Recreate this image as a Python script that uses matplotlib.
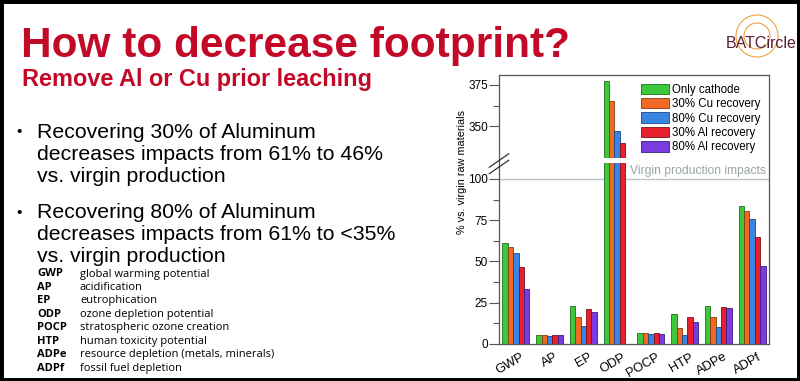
import numpy as np
import matplotlib
matplotlib.use("Agg")
import matplotlib.pyplot as plt
import matplotlib.transforms as mtransforms
from matplotlib.patches import Rectangle, Ellipse

# ---- data ----
categories = ["GWP", "AP", "EP", "ODP", "POCP", "HTP", "ADPe", "ADPf"]
only_cathode = [61.0, 5.5, 23.0, 377.5, 6.6, 18.0, 23.0, 83.5]
cu_30 = [58.5, 5.3, 16.5, 365.5, 6.6, 9.6, 16.5, 80.5]
cu_80 = [55.0, 5.0, 11.0, 347.0, 6.2, 5.3, 10.3, 75.5]
al_30 = [46.5, 5.3, 21.5, 340.0, 6.6, 16.2, 22.3, 65.0]
al_80 = [33.5, 5.3, 19.5, np.nan, 6.1, 13.5, 21.7, 47.5]

series_names = ["Only cathode", "30% Cu recovery", "80% Cu recovery",
                "30% Al recovery", "80% Al recovery"]
colors = ["#3cc83a", "#f06a26", "#3a84e4", "#e8202e", "#7a3ce0"]
edges = ["#1f6e1c", "#8a3a10", "#1d4a85", "#7e1018", "#3e1c80"]

abbrevs = ["GWP", "AP", "EP", "ODP", "POCP", "HTP", "ADPe", "ADPf"]
abbrev_desc = ["global warming potential", "acidification", "eutrophication",
               "ozone depletion potential", "stratospheric ozone creation",
               "human toxicity potential", "resource depletion (metals, minerals)",
               "fossil fuel depletion"]

bullets = [
    ["Recovering 30% of Aluminum", "decreases impacts from 61% to 46%",
     "vs. virgin production"],
    ["Recovering 80% of Aluminum", "decreases impacts from 61% to <35%",
     "vs. virgin production"],
]

W, H = 800, 381
RED = "#c20a28"


def px(x, y):
    return x / W, 1 - y / H


# broken y axis: values between LO and HI are squeezed out
LO, HI = 112.0, 330.0


def fwd(v):
    v = np.asarray(v, dtype=float)
    return np.where(v <= LO, v, np.where(v >= HI, v - (HI - LO), LO))


def inv(d):
    d = np.asarray(d, dtype=float)
    return np.where(d <= LO, d, d + (HI - LO))


fig = plt.figure(figsize=(W / 100, H / 100), dpi=100)
fig.patch.set_facecolor("white")

# ---- slide text ----
fig.text(*px(21, 57), "How to decrease footprint?", fontsize=30.5, fontweight="bold",
         color=RED, family="Liberation Sans", va="baseline", ha="left")
fig.text(*px(22, 86), "Remove Al or Cu prior leaching", fontsize=16.9, fontweight="bold",
         color=RED, family="Liberation Sans", va="baseline", ha="left")

ys = [132, 213]
for start, lines in zip(ys, bullets):
    fig.text(*px(19, start), "•", fontsize=11, color="black", va="center", ha="center",
             family="Liberation Sans")
    for k, line in enumerate(lines):
        fig.text(*px(37, start + k * 22), line, fontsize=15.3, color="black",
                 family="Liberation Sans", va="center", ha="left")

for k, (ab, desc) in enumerate(zip(abbrevs, abbrev_desc)):
    y = 274 + k * 13.45
    fig.text(*px(37, y), ab, fontsize=8, fontweight="bold", family="Open Sans",
             va="center", ha="left")
    fig.text(*px(80, y), desc, fontsize=8, family="Open Sans", va="center", ha="left")

# ---- logo ----
for r in (21, 13):
    fig.patches.append(Ellipse(px(757, 36), 2 * r / W, 2 * r / H, transform=fig.transFigure,
                               fill=False, ec="#f0a040", lw=0.8))
fig.text(*px(761, 44), "BATCircle", fontsize=11.5, color="#5b1f2d", family="Liberation Sans",
         va="center", ha="center")

# ---- chart ----
ax = fig.add_axes([499 / W, 37 / H, 270 / W, 269 / H])
ax.set_yscale("function", functions=(fwd, inv))

x = np.arange(len(categories))
bw = 0.16
all_series = [only_cathode, cu_30, cu_80, al_30, al_80]
for i, vals in enumerate(all_series):
    ax.bar(x + (i - 2) * bw, vals, bw, color=colors[i], edgecolor=edges[i], lw=0.6,
           label=series_names[i], zorder=2)

ax.set_xlim(-0.5, len(categories) - 0.5)
ax.set_ylim(0, 381)

# white gap through the tall bars
ax.axhspan(109.7, 330.7, color="white", zorder=2.2, lw=0)

ax.axhline(100, color="#b9c6c6", lw=1.0, zorder=1)
ax.text(7.42, 101.3, "Virgin production impacts", color="#9aa4a4", fontsize=8.7,
        ha="right", va="bottom", family="Liberation Sans")

ax.set_yticks([0, 25, 50, 75, 100, 350, 375])
ax.set_yticks([12.5, 37.5, 62.5, 87.5, 362.5], minor=True)
ax.tick_params(axis="y", which="major", length=7, width=0.8, color="#555555",
               labelsize=8.5, pad=1)
ax.tick_params(axis="y", which="minor", length=4, width=0.8, color="#555555")
ax.set_xticks(x, categories, rotation=30, ha="right", va="top", rotation_mode="anchor",
              fontsize=9.3, family="Liberation Sans")
ax.tick_params(axis="x", length=0, pad=5)
shift = mtransforms.ScaledTranslation(5 / 100, 0, fig.dpi_scale_trans)
for lab in ax.get_xticklabels():
    lab.set_transform(lab.get_transform() + shift)
for lab in ax.get_yticklabels():
    lab.set_family("Liberation Sans")

for sp in ax.spines.values():
    sp.set_color("#555555")
    sp.set_linewidth(0.9)

ax.set_ylabel("% vs. virgin raw materials", fontsize=7.8, family="Liberation Sans")
ax.yaxis.set_label_coords(-0.12, 0.64)

# break marks on the left spine
for dy in (-0.012, 0.012):
    ax.plot([-0.036, 0.036], [0.67 + dy - 0.025, 0.67 + dy + 0.025], transform=ax.transAxes,
            color="#333333", lw=0.9, clip_on=False, zorder=5)

ax.legend(loc="upper right", frameon=False, handlelength=2.4,
          handleheight=1.0, labelspacing=0.2, handletextpad=0.25,
          borderaxespad=0.35, prop={"family": "Liberation Sans", "size": 8.3})

# slide border
fig.patches.append(Rectangle((0, 0), 1, 1, transform=fig.transFigure, fill=False,
                             ec="black", lw=5))

fig.savefig("out.png", dpi=100)
